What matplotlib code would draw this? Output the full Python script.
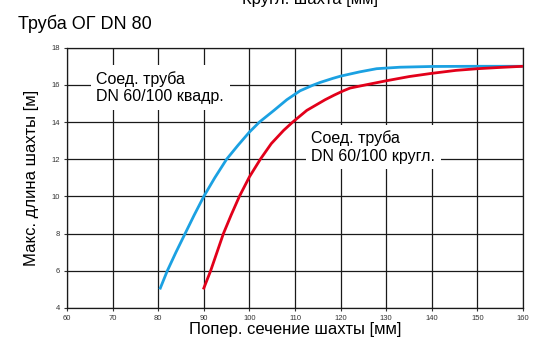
import numpy as np
import matplotlib
matplotlib.use("Agg")
import matplotlib.pyplot as plt

plt.rcParams['font.family'] = ['Liberation Sans', 'DejaVu Sans']

# curve: square connection pipe
x_kvadr = [80.35, 82.0, 83.9, 85.9, 87.9, 90.0, 92.4, 95.0, 97.5, 100.0, 102.2,
           105.4, 108.2, 111.1, 113.9, 115.5, 118.3, 120.0, 124.2, 127.9, 133.0,
           140.0, 150.0, 160.0]
y_kvadr = [5.0, 6.0, 7.0, 8.0, 9.0, 10.0, 11.0, 12.0, 12.75, 13.46, 14.0,
           14.63, 15.2, 15.68, 15.98, 16.13, 16.35, 16.47, 16.7, 16.87, 16.95,
           16.99, 17.0, 17.0]

# round connection pipe
x_krugl = [89.9, 91.5, 92.9, 94.3, 96.0, 97.8, 100.0, 102.4, 104.8, 107.5, 109.5,
           112.6, 116.6, 118.6, 120.6, 122.1, 125.7, 130.0, 135.1, 140.0, 145.3,
           150.0, 155.1, 160.0]
y_krugl = [5.0, 6.0, 7.0, 8.0, 9.0, 10.0, 11.05, 12.0, 12.84, 13.55, 14.0,
           14.63, 15.2, 15.45, 15.68, 15.83, 16.01, 16.22, 16.45, 16.62, 16.78,
           16.87, 16.94, 17.0]

xticks = [60, 70, 80, 90, 100, 110, 120, 130, 140, 150, 160]
yticks = [4, 6, 8, 10, 12, 14, 16, 18]

fig = plt.figure(figsize=(5.33, 3.38), dpi=100)
ax = fig.add_axes([0.1257, 0.0888, 0.8555, 0.7701])

ax.plot(x_kvadr, y_kvadr, color='#1ba1e2', lw=2.0, solid_capstyle='butt',
        solid_joinstyle='round', zorder=3)
ax.plot(x_krugl, y_krugl, color='#e2001a', lw=2.0, solid_capstyle='butt',
        solid_joinstyle='round', zorder=3)

ax.set_xlim(60, 160)
ax.set_ylim(4, 18)
ax.set_xticks(xticks)
ax.set_yticks(yticks)
ax.tick_params(labelsize=5.5, colors='#333333', length=2, width=0.8, pad=3)
ax.grid(True, color='#1a1a1a', lw=0.9)
for s in ax.spines.values():
    s.set_color('#1a1a1a')
    s.set_linewidth(0.9)

box = dict(facecolor='white', edgecolor='none', pad=4)
ax.text(66.4, 15.85, 'Соед. труба\nDN 60/100 квадр.', fontsize=11.5, va='center',
        ha='left', linespacing=1.2, bbox=box, zorder=4)
ax.text(113.6, 12.65, 'Соед. труба\nDN 60/100 кругл.', fontsize=11.5, va='center',
        ha='left', linespacing=1.2, bbox=box, zorder=4)

ax.set_xlabel('Попер. сечение шахты [мм]', fontsize=12, labelpad=0)
ax.set_ylabel('Макс. длина шахты [м]', fontsize=12, labelpad=9)

fig.text(18 / 533, 1 - 29 / 338, 'Труба ОГ DN 80', fontsize=13, ha='left', va='baseline')
# label of the chart above, mostly cut off at the top edge
fig.text(310 / 533, 1 - 4 / 338, 'Кругл. шахта [мм]', fontsize=12, ha='center', va='baseline')

fig.savefig('out.png', dpi=100)
